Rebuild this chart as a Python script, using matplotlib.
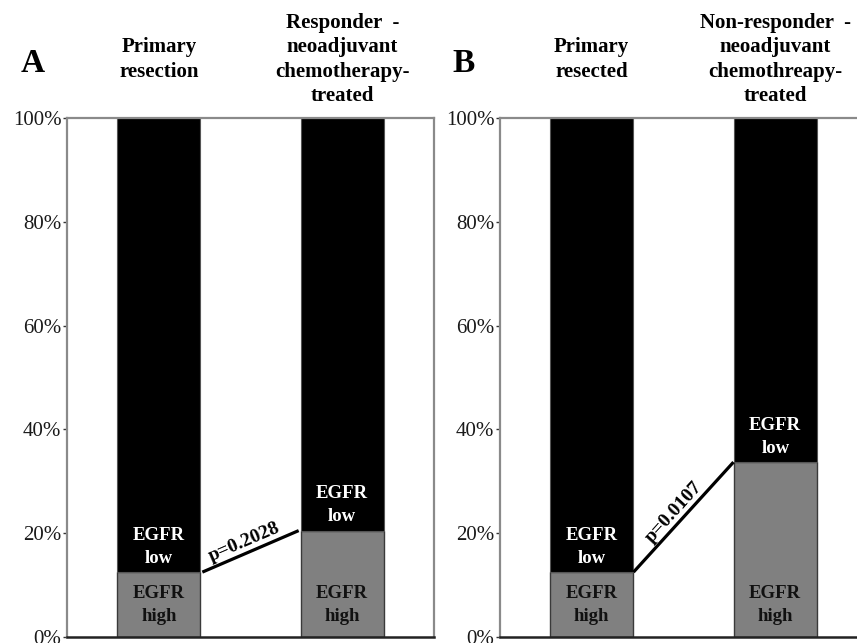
import matplotlib.pyplot as plt
import numpy as np

plt.rcParams['font.family'] = ['Liberation Serif', 'DejaVu Serif']

# EGFR high share (%) per group; EGFR low is the rest of the bar
labels_a = ["Primary\nresection", "Responder  -\nneoadjuvant\nchemotherapy-\ntreated"]
labels_b = ["Primary\nresected", "Non-responder  -\nneoadjuvant\nchemothreapy-\ntreated"]
high_a = [12.5, 20.5]
high_b = [12.5, 33.7]
pval_a = "p=0.2028"
pval_b = "p=0.0107"
yticks = [0, 20, 40, 60, 80, 100]
ytick_labels = ["0%", "20%", "40%", "60%", "80%", "100%"]

W, H = 857, 643
fig = plt.figure(figsize=(W / 100, H / 100), dpi=100)

width = 0.455


def panel(left_px, letter, letter_x, labels, high, pval, gap):
    ax = fig.add_axes([left_px / W, 6 / H, 367 / W, 519 / H])
    x = np.arange(len(high))
    high = np.array(high)
    low = 100 - high
    ax.bar(x, high, width, color='#808080', edgecolor='#3a3a3a', linewidth=1, zorder=2)
    ax.bar(x, low, width, bottom=high, color='black', edgecolor='#555555', linewidth=0.8, zorder=2)
    ax.set_xlim(-0.5, 1.5)
    ax.set_ylim(0, 100)

    for s in ['left', 'top', 'right']:
        ax.spines[s].set_color('#8a8a8a')
        ax.spines[s].set_linewidth(1.6)
    ax.spines['bottom'].set_color('#222222')
    ax.spines['bottom'].set_linewidth(1.8)
    ax.set_xticks([])
    ax.set_yticks(yticks)
    ax.set_yticklabels(ytick_labels)
    ax.tick_params(axis='y', length=3, width=1, color='#333333', labelsize=15,
                   labelcolor='#1a1a1a', pad=1)

    # group labels above the plot
    for xi, lab in zip(x, labels):
        ax.text(xi, 1.113, lab, transform=ax.get_xaxis_transform(), ha='center',
                va='center', fontsize=15, fontweight='bold', linespacing=1.3)

    # EGFR labels inside the bars
    for xi, h in zip(x, high):
        ax.text(xi, 6.2, "EGFR\nhigh", ha='center', va='center', fontsize=13.5,
                fontweight='bold', color='#111111', linespacing=1.45, zorder=3)
        ax.text(xi, h + 4.9, "EGFR\nlow", ha='center', va='center', fontsize=13.5,
                fontweight='bold', color='white', linespacing=1.45, zorder=3)

    # connecting line between the EGFR high tops with the p-value
    x1, y1 = x[0] + width / 2 + gap, high[0]
    x2, y2 = x[1] - width / 2 - gap, high[1]
    ax.plot([x1, x2], [y1, y2], color='black', lw=2.3, solid_capstyle='butt',
            zorder=3, clip_on=False)
    p1 = ax.transData.transform((x1, y1))
    p2 = ax.transData.transform((x2, y2))
    ang = np.degrees(np.arctan2(p2[1] - p1[1], p2[0] - p1[0]))
    f = 0.48
    ax.annotate(pval, (x1 + f * (x2 - x1), y1 + f * (y2 - y1)),
                xytext=(-1.5 * np.sin(np.radians(ang)), 1.5 * np.cos(np.radians(ang))),
                textcoords='offset points', rotation=ang, rotation_mode='anchor',
                ha='center', va='bottom', fontsize=14, fontweight='bold')

    fig.text(letter_x / W, 1 - 64 / H, letter, ha='center', va='center',
             fontsize=24, fontweight='bold')
    return ax


panel(67, "A", 33, labels_a, high_a, pval_a, 0.01)
panel(500, "B", 464, labels_b, high_b, pval_b, 0.0)

fig.savefig('out.png', dpi=100)
